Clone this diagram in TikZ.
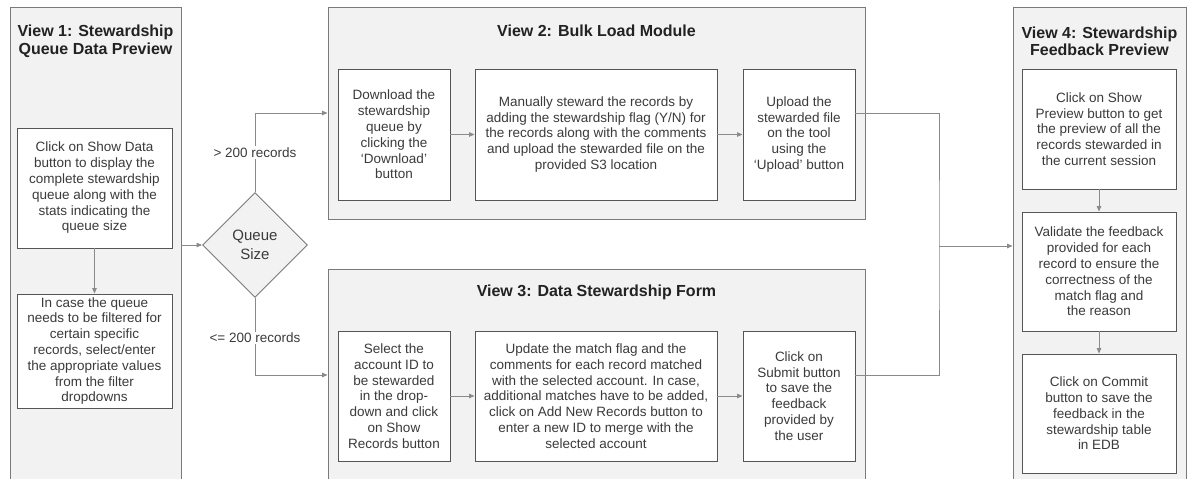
\documentclass[tikz,border=0pt]{standalone}
\usepackage{fontspec}
\setmainfont{Liberation Sans}
\usetikzlibrary{arrows.meta,shapes.geometric}
\definecolor{panelfill}{HTML}{F2F2F2}
\definecolor{panelline}{HTML}{7A7A7A}
\definecolor{boxline}{HTML}{555555}
\definecolor{flowline}{HTML}{8A8A8A}
\definecolor{bodytext}{HTML}{3B3B3B}
\definecolor{headtext}{HTML}{222222}

\begin{document}
\begin{tikzpicture}[x=1pt, y=-1pt,
  view/.style={draw=panelline, fill=panelfill, line width=0.9pt, inner sep=0pt},
  stepbox/.style={draw=boxline, fill=white, line width=0.9pt, inner sep=2pt, align=center, text=bodytext, font=\fontsize{13.5}{15.8}\selectfont},
  viewtitle/.style={align=center, text=headtext, font=\fontsize{16}{17.5}\selectfont\bfseries},
  flow/.style={draw=flowline, line width=0.9pt},
  flowarrow/.style={flow, -{Triangle[length=5.5pt,width=4.5pt]}},
  cond/.style={fill=white, text=bodytext, inner sep=1.5pt, font=\fontsize{13.5}{15.8}\selectfont}]
\useasboundingbox (0,0) rectangle (1192,479);
\fill[white] (0,0) rectangle (1192,479);
\node[view, minimum width=171pt, minimum height=478pt] (v1) at (95.5,246) {};
\node[view, minimum width=537pt, minimum height=212pt] (v2) at (596.5,113) {};
\node[view, minimum width=537pt, minimum height=212pt] (v3) at (596.5,375) {};
\node[view, minimum width=173pt, minimum height=478pt] (v4) at (1099.5,246) {};
\node[viewtitle] (t1) at (95.5,41.5) {View 1: Stewardship\\Queue Data Preview};
\node[viewtitle] (t2) at (596.5,31) {View 2: Bulk Load Module};
\node[viewtitle] (t3) at (596.5,292) {View 3: Data Stewardship Form};
\node[viewtitle] (t4) at (1099.5,41.5) {View 4: Stewardship\\Feedback Preview};
\node[stepbox, minimum width=155pt, minimum height=120pt] (b11) at (94.5,188) {Click on Show Data\\button to display the\\complete stewardship\\queue along with the\\stats indicating the\\queue size};
\node[stepbox, minimum width=155pt, minimum height=114pt] (b12) at (94.5,351) {In case the queue\\needs to be filtered for\\certain specific\\records, select/enter\\the appropriate values\\from the filter\\dropdowns};
\node[diamond, aspect=1, draw=panelline, fill=panelfill, line width=0.9pt, minimum size=105pt, inner sep=0pt, align=center, text=bodytext, font=\fontsize{15}{19}\selectfont] (q) at (255,245) {Queue\\Size};
\node[stepbox, minimum width=112pt, minimum height=131pt] (a2) at (394,134.5) {Download the\\stewardship\\queue by\\clicking the\\‘Download’\\button};
\node[stepbox, minimum width=242pt, minimum height=131pt] (b2) at (596,134.5) {Manually steward the records by\\adding the stewardship flag (Y/N) for\\the records along with the comments\\and upload the stewarded file on the\\provided S3 location};
\node[stepbox, minimum width=112pt, minimum height=131pt] (c2) at (799,134.5) {Upload the\\stewarded file\\on the tool\\using the\\‘Upload’ button};
\node[stepbox, minimum width=112pt, minimum height=130pt] (a3) at (394,396) {Select the\\account ID to\\be stewarded\\in the drop-\\down and click\\on Show\\Records button};
\node[stepbox, minimum width=242pt, minimum height=130pt] (b3) at (596,396) {Update the match flag and the\\comments for each record matched\\with the selected account. In case,\\additional matches have to be added,\\click on Add New Records button to\\enter a new ID to merge with the\\selected account};
\node[stepbox, minimum width=112pt, minimum height=130pt] (c3) at (799,396) {Click on\\Submit button\\to save the\\feedback\\provided by\\the user};
\node[stepbox, minimum width=154pt, minimum height=120pt] (f1) at (1099,129) {Click on Show\\Preview button to get\\the preview of all the\\records stewarded in\\the current session};
\node[stepbox, minimum width=154pt, minimum height=119pt] (f2) at (1099,271.5) {Validate the feedback\\provided for each\\record to ensure the\\correctness of the\\match flag and\\the reason};
\node[stepbox, minimum width=154pt, minimum height=119pt] (f3) at (1099,413.5) {Click on Commit\\button to save the\\feedback in the\\stewardship table\\in EDB};
\coordinate (merge) at (939,246);
\draw[flowarrow] (b11) -- (b12);
\draw[flowarrow] (v1.east |- q.west) -- (q.west);
\draw[flowarrow] (q.north) |- node[cond, pos=0.25] {> 200 records} (v2.west);
\draw[flowarrow] (q.south) |- node[cond, pos=0.26] {<= 200 records} (v3.west);
\draw[flowarrow] (a2) -- (b2); \draw[flowarrow] (b2) -- (c2);
\draw[flowarrow] (a3) -- (b3); \draw[flowarrow] (b3) -- (c3);
\draw[flow] (c2.east |- v2.west) -| (merge) |- (c3.east |- v3.west);
\draw[flowarrow] (merge) -- (v4.west);
\draw[flowarrow] (f1) -- (f2); \draw[flowarrow] (f2) -- (f3);
\end{tikzpicture}
\end{document}
